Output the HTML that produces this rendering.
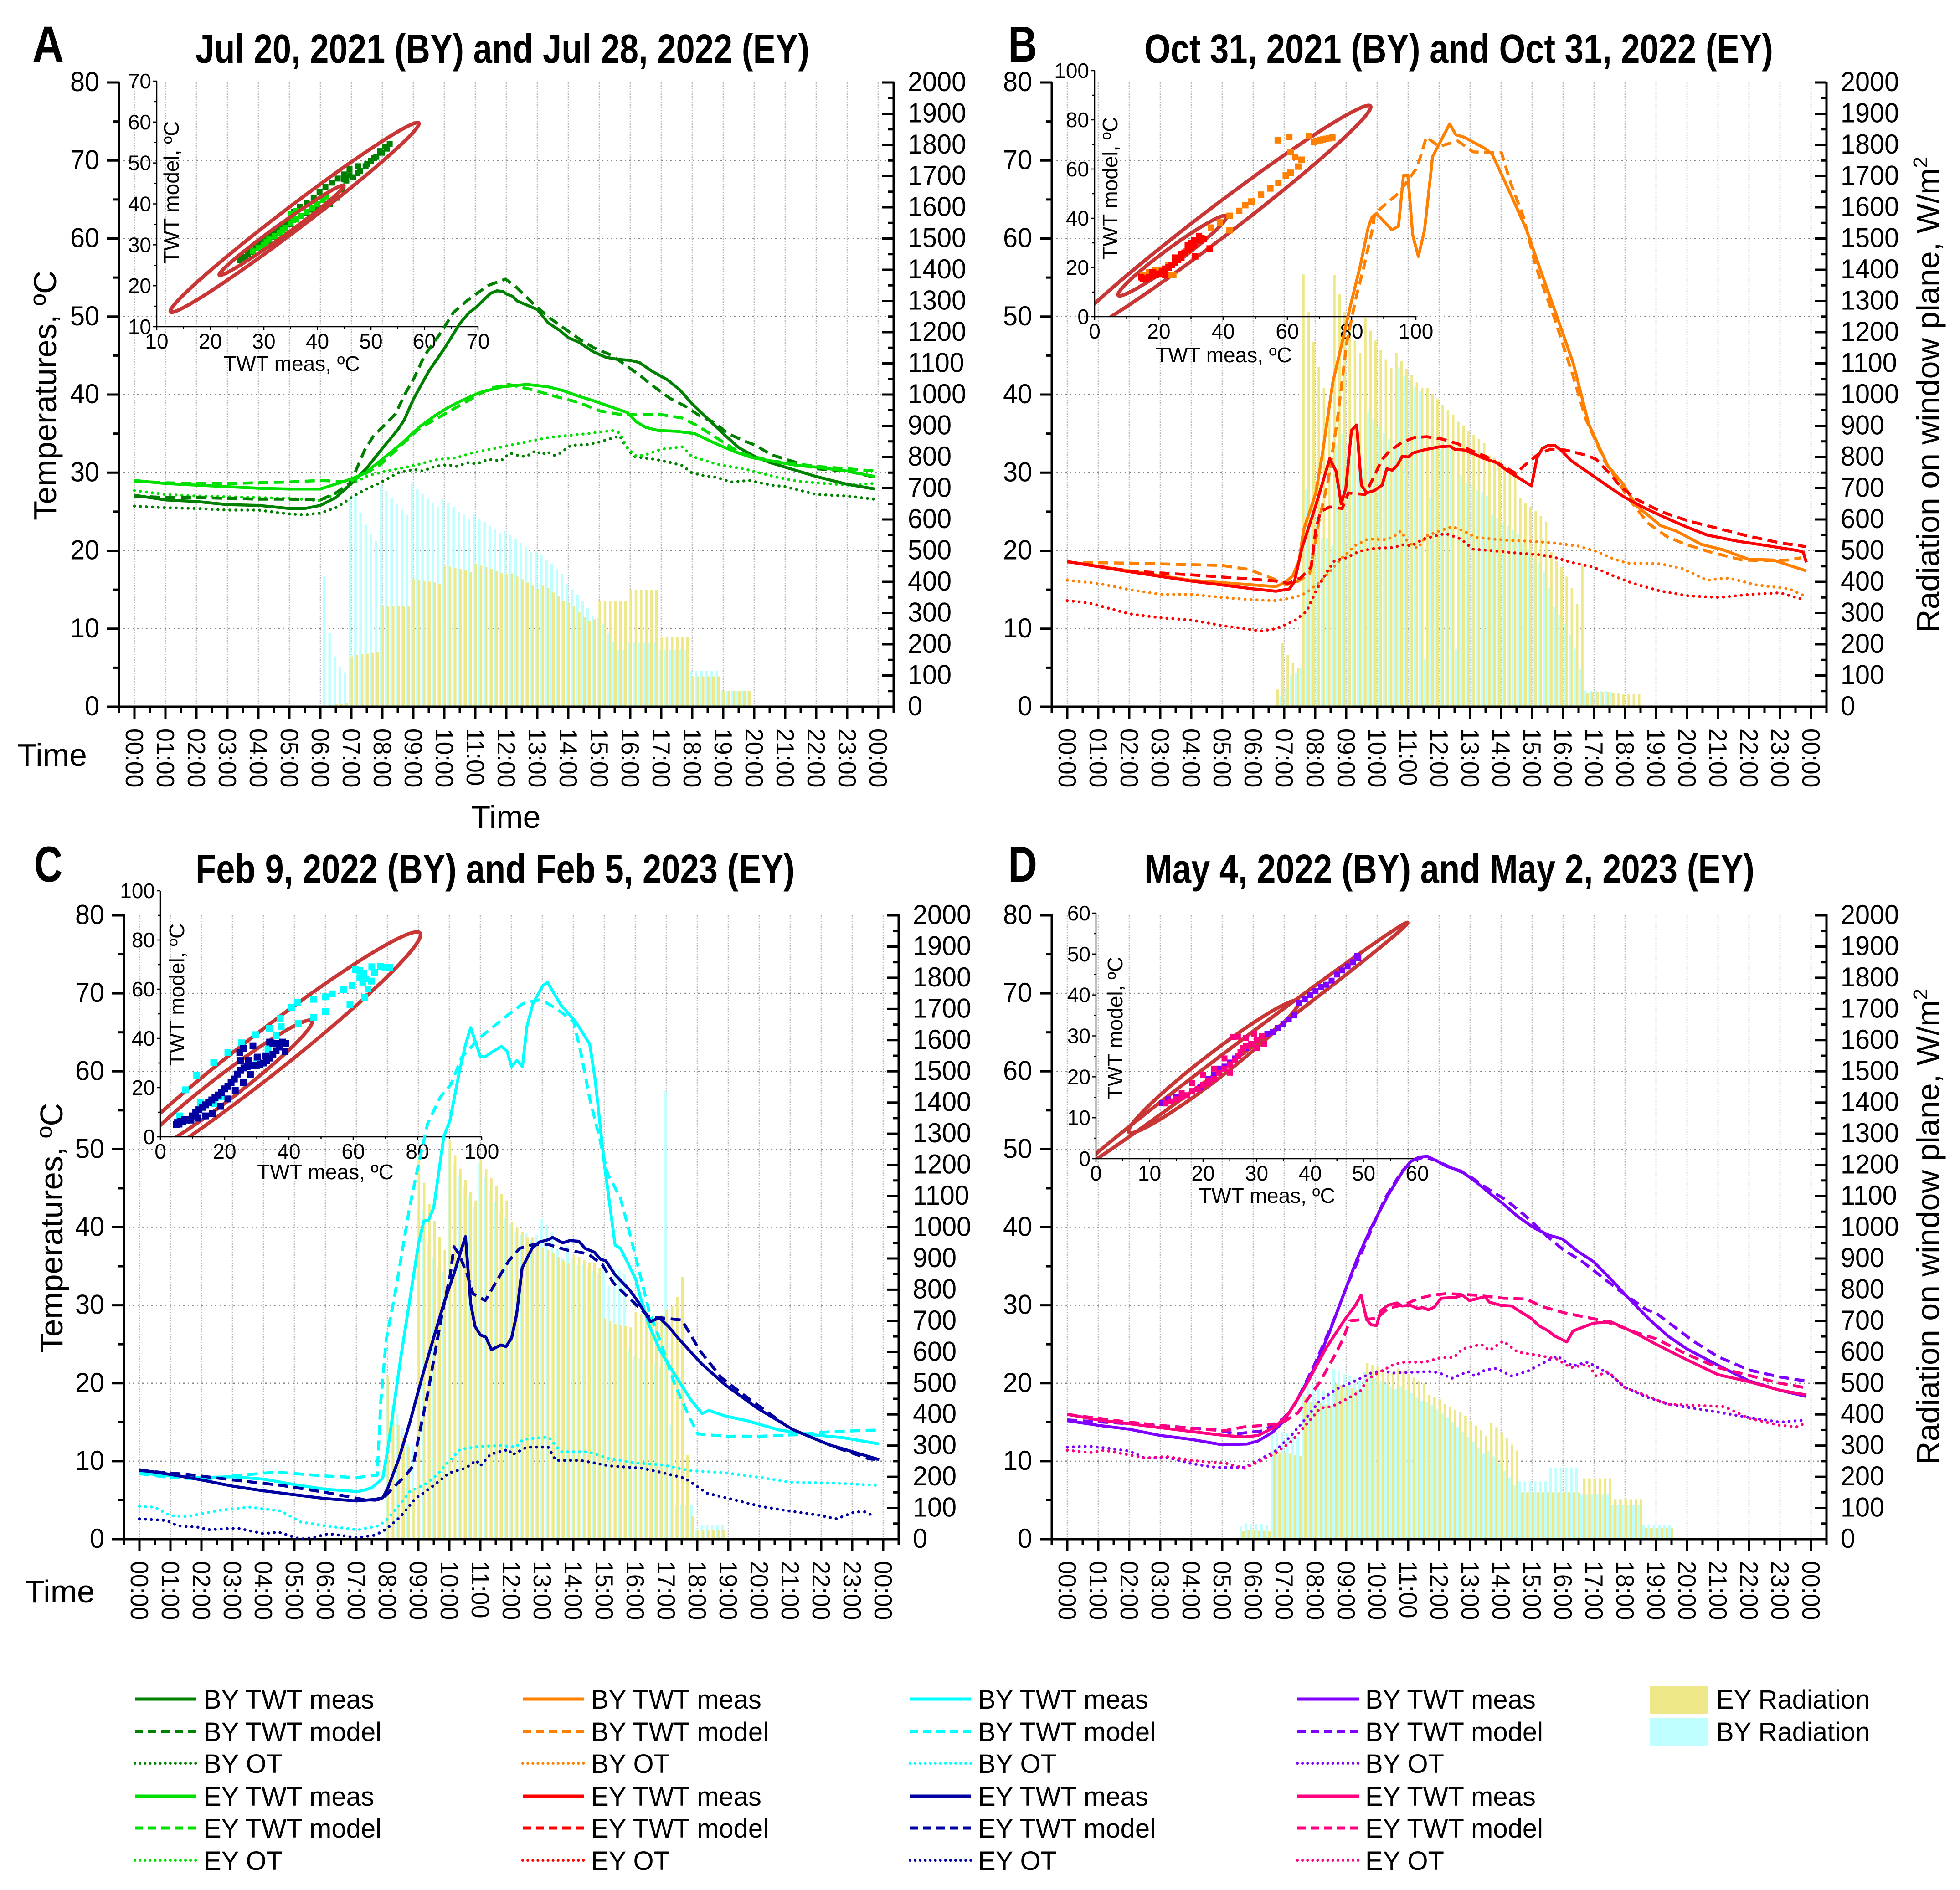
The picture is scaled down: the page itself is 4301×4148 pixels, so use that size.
<!DOCTYPE html>
<html lang="en">
<head>
<meta charset="utf-8">
<title>Window temperatures and radiation</title>
<style>
html,body{margin:0;padding:0;background:#fff;}
svg{display:block;}
text{font-family:"Liberation Sans",sans-serif;fill:#000;}
.ttl{font-weight:bold;font-size:90px;}
.let{font-weight:bold;font-size:110px;}
.big{font-size:70px;}
.leg{font-size:58px;}
</style>
</head>
<body>
<svg id="chart" xmlns="http://www.w3.org/2000/svg" width="4301" height="4148" viewBox="0 0 4301 4148">
<rect width="4301" height="4148" fill="#fff"/>
<g id="plots"></g>
<g>
<text class="let" x="71" y="135" textLength="69" lengthAdjust="spacingAndGlyphs">A</text>
<text class="let" x="2212" y="135" textLength="64" lengthAdjust="spacingAndGlyphs">B</text>
<text class="let" x="75" y="1935" textLength="62" lengthAdjust="spacingAndGlyphs">C</text>
<text class="let" x="2212" y="1935" textLength="64" lengthAdjust="spacingAndGlyphs">D</text>
<text class="ttl" x="429" y="138" textLength="1347" lengthAdjust="spacingAndGlyphs">Jul 20, 2021 (BY) and Jul 28, 2022 (EY)</text>
<text class="ttl" x="2511" y="138" textLength="1380" lengthAdjust="spacingAndGlyphs">Oct 31, 2021 (BY) and Oct 31, 2022 (EY)</text>
<text class="ttl" x="429" y="1938" textLength="1315" lengthAdjust="spacingAndGlyphs">Feb 9, 2022 (BY) and Feb 5, 2023 (EY)</text>
<text class="ttl" x="2511" y="1938" textLength="1339" lengthAdjust="spacingAndGlyphs">May 4, 2022 (BY) and May 2, 2023 (EY)</text>
<text class="big" text-anchor="middle" transform="translate(123,868) rotate(-90)" textLength="548" lengthAdjust="spacingAndGlyphs">Temperatures, ºC</text>
<text class="big" text-anchor="middle" transform="translate(137,2695) rotate(-90)" textLength="549" lengthAdjust="spacingAndGlyphs">Temperatures, ºC</text>
<text class="big" text-anchor="middle" transform="translate(4255,866) rotate(-90)">Radiation on window plane, W/m<tspan dy="-26" font-size="44">2</tspan></text>
<text class="big" text-anchor="middle" transform="translate(4255,2692) rotate(-90)">Radiation on window plane, W/m<tspan dy="-26" font-size="44">2</tspan></text>
<text class="big" x="38" y="1681">Time</text>
<text class="big" x="1110" y="1817" text-anchor="middle">Time</text>
<text class="big" x="55" y="3517">Time</text>
</g>
<g>
<g>
<line x1="296" x2="431" y1="3729" y2="3729" stroke="#008000" stroke-width="7"/>
<text class="leg" x="447" y="3750">BY TWT meas</text>
<line x1="296" x2="431" y1="3800" y2="3800" stroke="#008000" stroke-width="7" stroke-dasharray="18 11"/>
<text class="leg" x="447" y="3821">BY TWT model</text>
<line x1="296" x2="431" y1="3870" y2="3870" stroke="#008000" stroke-width="6" stroke-dasharray="0.1 11" stroke-linecap="round"/>
<text class="leg" x="447" y="3891">BY OT</text>
<line x1="296" x2="431" y1="3942" y2="3942" stroke="#00E000" stroke-width="7"/>
<text class="leg" x="447" y="3963">EY TWT meas</text>
<line x1="296" x2="431" y1="4012" y2="4012" stroke="#00E000" stroke-width="7" stroke-dasharray="18 11"/>
<text class="leg" x="447" y="4033">EY TWT model</text>
<line x1="296" x2="431" y1="4083" y2="4083" stroke="#00E000" stroke-width="6" stroke-dasharray="0.1 11" stroke-linecap="round"/>
<text class="leg" x="447" y="4104">EY OT</text>
</g>
<g>
<line x1="1147" x2="1281" y1="3729" y2="3729" stroke="#FF8000" stroke-width="7"/>
<text class="leg" x="1297" y="3750">BY TWT meas</text>
<line x1="1147" x2="1281" y1="3800" y2="3800" stroke="#FF8000" stroke-width="7" stroke-dasharray="18 11"/>
<text class="leg" x="1297" y="3821">BY TWT model</text>
<line x1="1147" x2="1281" y1="3870" y2="3870" stroke="#FF8000" stroke-width="6" stroke-dasharray="0.1 11" stroke-linecap="round"/>
<text class="leg" x="1297" y="3891">BY OT</text>
<line x1="1147" x2="1281" y1="3942" y2="3942" stroke="#FF0000" stroke-width="7"/>
<text class="leg" x="1297" y="3963">EY TWT meas</text>
<line x1="1147" x2="1281" y1="4012" y2="4012" stroke="#FF0000" stroke-width="7" stroke-dasharray="18 11"/>
<text class="leg" x="1297" y="4033">EY TWT model</text>
<line x1="1147" x2="1281" y1="4083" y2="4083" stroke="#FF0000" stroke-width="6" stroke-dasharray="0.1 11" stroke-linecap="round"/>
<text class="leg" x="1297" y="4104">EY OT</text>
</g>
<g>
<line x1="1997" x2="2131" y1="3729" y2="3729" stroke="#00FFFF" stroke-width="7"/>
<text class="leg" x="2146" y="3750">BY TWT meas</text>
<line x1="1997" x2="2131" y1="3800" y2="3800" stroke="#00FFFF" stroke-width="7" stroke-dasharray="18 11"/>
<text class="leg" x="2146" y="3821">BY TWT model</text>
<line x1="1997" x2="2131" y1="3870" y2="3870" stroke="#00FFFF" stroke-width="6" stroke-dasharray="0.1 11" stroke-linecap="round"/>
<text class="leg" x="2146" y="3891">BY OT</text>
<line x1="1997" x2="2131" y1="3942" y2="3942" stroke="#0000A0" stroke-width="7"/>
<text class="leg" x="2146" y="3963">EY TWT meas</text>
<line x1="1997" x2="2131" y1="4012" y2="4012" stroke="#0000A0" stroke-width="7" stroke-dasharray="18 11"/>
<text class="leg" x="2146" y="4033">EY TWT model</text>
<line x1="1997" x2="2131" y1="4083" y2="4083" stroke="#0000A0" stroke-width="6" stroke-dasharray="0.1 11" stroke-linecap="round"/>
<text class="leg" x="2146" y="4104">EY OT</text>
</g>
<g>
<line x1="2847" x2="2982" y1="3729" y2="3729" stroke="#8000FF" stroke-width="7"/>
<text class="leg" x="2996" y="3750">BY TWT meas</text>
<line x1="2847" x2="2982" y1="3800" y2="3800" stroke="#8000FF" stroke-width="7" stroke-dasharray="18 11"/>
<text class="leg" x="2996" y="3821">BY TWT model</text>
<line x1="2847" x2="2982" y1="3870" y2="3870" stroke="#8000FF" stroke-width="6" stroke-dasharray="0.1 11" stroke-linecap="round"/>
<text class="leg" x="2996" y="3891">BY OT</text>
<line x1="2847" x2="2982" y1="3942" y2="3942" stroke="#FF0080" stroke-width="7"/>
<text class="leg" x="2996" y="3963">EY TWT meas</text>
<line x1="2847" x2="2982" y1="4012" y2="4012" stroke="#FF0080" stroke-width="7" stroke-dasharray="18 11"/>
<text class="leg" x="2996" y="4033">EY TWT model</text>
<line x1="2847" x2="2982" y1="4083" y2="4083" stroke="#FF0080" stroke-width="6" stroke-dasharray="0.1 11" stroke-linecap="round"/>
<text class="leg" x="2996" y="4104">EY OT</text>
</g>
<rect x="3621" y="3701" width="126" height="60" fill="#EEE888"/>
<text class="leg" x="3766" y="3750">EY Radiation</text>
<rect x="3621" y="3771" width="126" height="60" fill="#BFFFFF"/>
<text class="leg" x="3766" y="3821">BY Radiation</text>
</g>
</svg>
<script>
// ---------- shared tick labels ----------
const tempTicks = [0,10,20,30,40,50,60,70,80];
const radTicks = [0,100,200,300,400,500,600,700,800,900,1000,1100,1200,1300,1400,1500,1600,1700,1800,1900,2000];
const hourLabels = ["00:00","01:00","02:00","03:00","04:00","05:00","06:00","07:00","08:00","09:00","10:00","11:00","12:00","13:00","14:00","15:00","16:00","17:00","18:00","19:00","20:00","21:00","22:00","23:00","00:00"];

// ---------- PANEL A ----------
const aByMeas = [[0,27.1],[1,26.5],[2,26.3],[3,25.9],[4,25.8],[5,25.4],[5.5,25.4],[6,25.8],[6.5,26.8],[7,28.6],[7.5,30.6],[8,33.1],[8.5,35.5],[8.7,36.7],[9,39.4],[9.5,43],[10,45.9],[10.5,49.1],[10.8,50.5],[11,51.1],[11.5,53],[11.7,53.3],[11.9,53.2],[12,52.9],[12.2,52.6],[12.35,52],[13,50.9],[13.35,49.2],[13.7,48.3],[14,47.3],[14.35,46.7],[14.8,45.5],[15.2,44.8],[15.6,44.5],[16,44.4],[16.3,44.1],[16.7,43],[17.2,41.9],[17.6,40.6],[18,38.8],[18.5,36.9],[19,35],[19.5,33.2],[20,32.1],[20.5,31.3],[21,30.7],[22,29.5],[23,28.5],[23.9,27.9]];
const aByModel = [[0,27],[1,26.8],[2,26.8],[3,26.7],[4,26.6],[5,26.6],[6,26.5],[6.5,27.4],[6.94,28.6],[7.14,30.2],[7.43,32.9],[7.73,34.8],[8.03,35.9],[8.42,37.5],[8.72,40],[9.01,42],[9.36,45],[9.9,48],[10.29,50.5],[10.69,51.9],[11.03,52.9],[11.43,54],[11.97,54.8],[12.26,54],[12.85,51.7],[13.44,49.7],[13.94,48.3],[14.33,47.2],[14.82,46],[15.42,45],[15.91,43.6],[16.3,42.5],[16.7,41.2],[17.29,39.5],[17.78,38.5],[18.27,37.2],[18.67,36.5],[19.16,35],[19.65,34.1],[20.05,33.5],[20.54,32.3],[21.03,31.7],[22,30.5],[23,30.2],[23.9,29.4]];
const aByOT = [[0,25.7],[1,25.5],[2,25.4],[3,25.2],[4,25.2],[5,24.7],[5.5,24.6],[6,24.8],[6.55,25.6],[7,26.8],[7.43,27.8],[7.93,28.7],[8.52,30],[9.01,30.4],[9.31,30.2],[9.7,30.8],[10.1,31],[10.39,30.8],[10.79,31.3],[11.03,31.1],[11.43,31.7],[11.82,31.5],[12.12,32.5],[12.46,32.1],[12.66,32.1],[12.95,32.8],[13.15,32.3],[13.3,32.7],[13.54,32.2],[13.74,32.5],[14.09,33.5],[14.63,33.6],[14.97,33.9],[15.32,34.3],[15.66,34.7],[15.81,33.7],[16.1,32.1],[16.4,31.9],[16.8,31.7],[17.29,31.3],[17.68,30.9],[17.98,30],[18.37,29.6],[18.77,29.4],[19.26,28.8],[19.85,29],[20.54,28.4],[21,28.2],[22,27.2],[23,27],[23.85,26.6]];
const aEyMeas = [[0,29],[1,28.6],[2,28.4],[3,28.2],[4,28],[5,27.9],[6,27.9],[6.55,28.6],[7,29.2],[7.43,29.9],[7.93,31.5],[8.61,33.7],[9.21,35.9],[9.7,37.3],[10.1,38.3],[10.49,39.1],[10.88,39.8],[11.18,40.3],[11.87,41],[12.66,41.3],[13.35,41],[13.84,40.5],[14.33,39.8],[14.82,39.2],[15.32,38.5],[15.91,37.7],[16.2,36.5],[16.5,35.8],[16.9,35.4],[17.49,35.3],[18.08,35],[18.77,33.7],[19.36,32.7],[19.95,31.9],[20.54,31.5],[21.4,30.9],[22,30.7],[23,30.2],[23.9,29.5]];
const aEyModel = [[0,28.9],[1,28.7],[2,28.6],[3,28.6],[4,28.7],[5,28.8],[6,29],[6.94,28.8],[7.34,29.6],[7.93,31],[8.61,33.5],[9.21,35.7],[11.47,40.8],[12.07,41.3],[12.86,40.6],[13.64,39.7],[14.33,39],[15.02,37.9],[15.61,37.5],[16.2,37.4],[16.9,37.5],[17.68,37],[18.17,36],[18.77,34.5],[19.55,32.5],[20.54,31.5],[21.4,31.1],[22,30.8],[23,30.5],[23.9,30.2]];
const aEyOT = [[0,27.7],[1,27.2],[2,27],[3,26.9],[4,26.8],[5,26.7],[6,26.4],[6.55,27.4],[7.04,28.6],[7.53,29.6],[8.12,30.2],[8.91,30.8],[9.8,31.7],[10.39,31.9],[10.88,32.5],[11.87,33.3],[12.86,34.1],[13.35,34.5],[13.84,34.7],[14.63,35],[15.42,35.4],[15.66,35.1],[15.91,33.1],[16.2,32.1],[16.5,32.3],[17,33],[17.68,33.3],[17.98,32.1],[18.77,31.1],[19.75,30.4],[20.74,29.4],[21.4,28.9],[22,28.7],[23,28.4],[23.85,28.6]];
const aRadByStart = 6.13;
const aRadBy = [417,235,161,128,110,664,674,622,583,555,530,709,692,669,649,632,615,717,698,682,666,652,640,664,651,640,625,615,603,615,603,592,579,568,556,564,551,538,524,511,496,498,485,470,457,442,425,393,376,358,337,317,292,284,265,235,208,181,181,205,205,205,205,205,205,181,181,181,181,181,181,114,114,114,114,114,114,50,50,50,50,50,50];
const aRadEyStart = 6.35;
const aRadEy = [5,7,10,13,161,165,169,170,173,175,321,321,321,321,321,321,408,405,403,401,398,393,452,449,445,442,439,432,459,452,447,441,435,429,425,427,417,408,398,388,378,388,380,366,353,338,333,321,304,287,275,280,338,338,338,338,338,338,375,375,375,375,375,375,222,222,222,222,222,222,97,97,97,97,97,97,50,50,50,50,50,50];
const aTicks = [10,20,30,40,50,60,70];
const aScatterBy = [[25.5,26.2],[26,26.8],[26.5,27],[27,27.8],[27.5,28.3],[28,28.6],[28.5,29.2],[29,29.8],[29.5,30.5],[30,31],[30.5,31.7],[31,32.4],[31.5,33],[32,33.4],[32.5,33.8],[33,34.3],[33.5,34.8],[34,35.2],[34.5,35.8],[35,37],[35.6,38],[36.7,39.3],[38,40.2],[39.3,41.5],[40.4,43],[41.5,44.2],[42.8,45.2],[43.8,46.2],[45,47.2],[46,48.5],[47.6,49.2],[41,39],[42.3,40],[43.6,41.5],[44.7,43.5],[45.4,45.7],[46.7,46.5],[48,48],[49.3,49.7],[50.6,51.2],[51.7,52.9],[52.6,54],[53.5,54.7],[53,53.5],[52,52.5],[51,51.5],[50,50.5],[49,49.2],[47.5,47.5],[46,47],[45,46],[30,30],[31,31],[32,32],[33,33],[34,34],[35,35],[36,36.2],[37,37],[38,37.8],[39,38.6],[40,38.8]];
const aScatterEy = [[28,28.4],[29,29.2],[30,30],[30.5,30.7],[31,31.3],[32,32.2],[33,33],[33.5,33.6],[34,34.2],[35,35.2],[35.5,36],[36,36.2],[37,37],[38,38],[39,39],[40,40],[41,41],[41.7,41.8],[35,37.5],[36,38.3]];
// confidence ellipses: centre x, centre y, half-length x, half-length y, half-width
const aEllipses = [[35.75,36.7,23.15,23.1,1.75],[33.3,33.55,11.6,10.95,0.9]];

// ---------- PANEL B ----------
const bByMeas = [[0,18.6],[2,17.4],[4,16.2],[6,15.6],[6.73,15.4],[7.03,15.9],[7.28,16.8],[7.48,18.7],[7.63,22.7],[8.02,27.4],[8.22,32.1],[8.57,41.6],[8.87,46.7],[9.12,51.1],[9.46,56.6],[9.71,61.4],[9.84,62.8],[9.98,63.2],[10.48,61.1],[10.69,61.6],[10.85,68.1],[10.99,68.1],[11.15,60.4],[11.33,57.7],[11.53,61.1],[11.79,70.5],[12,72.1],[12.34,74.7],[12.54,73.3],[12.8,73],[13.5,71.5],[13.71,70.8],[14.11,67.4],[14.52,63.8],[14.82,61.1],[15.32,55.4],[15.83,49.7],[16.33,44],[16.83,36.2],[17.44,30.9],[17.94,28.5],[18.35,25.8],[18.85,24.2],[19.15,23.2],[19.66,22.5],[20.46,20.8],[21.17,20.1],[21.98,18.9],[22.78,18.8],[23.39,18],[23.85,17.4]];
const bByModel = [[0,18.5],[2,18.4],[4,18.2],[5,18.1],[5.85,17.6],[6.65,16.4],[7.06,15.6],[7.46,16.1],[7.82,17.1],[7.97,20.3],[8.12,23.8],[8.42,29],[8.72,36.9],[9.02,46.7],[9.31,52.3],[9.56,56.2],[9.86,61.4],[9.92,63.2],[10.69,65.8],[11.29,69.1],[11.59,73],[12,71.8],[12.6,72.5],[13.1,71.1],[14.01,71],[14.31,67.1],[14.72,62.8],[15.12,56.4],[15.73,49.7],[16.33,42.3],[16.73,36.9],[17.34,31.5],[18.15,26.5],[18.75,23.5],[19.35,21.8],[19.96,20.8],[20.77,19.8],[21.77,18.8],[22.58,18.7],[23.29,18.8],[23.69,19.1]];
const bByOT = [[0,16.2],[1,15.8],[2,15],[3,14.4],[4,14.4],[5,14],[6,13.7],[6.73,13.6],[7.33,14],[7.72,14.6],[8.12,15.9],[8.47,17.3],[8.87,19.1],[9.31,20.7],[9.71,21.5],[10.21,21.4],[10.5,21.7],[10.76,22.5],[11,21.1],[11.3,20.3],[11.6,21.9],[12,22.5],[12.42,23.1],[12.8,22.5],[13.19,21.7],[13.69,21.5],[14.28,21.3],[14.98,21.2],[15.67,21],[16.47,20.6],[17.07,19.9],[17.66,18.9],[18.06,18.4],[18.56,18.4],[19.16,18.3],[19.85,17.7],[20.65,16.2],[21.24,16.5],[21.54,16.3],[22.24,15.6],[22.9,15.3],[23.3,15.1],[23.85,14.1]];
const bEyMeas = [[0,18.6],[2,17.3],[4,16.1],[6,15.1],[6.73,14.8],[7.17,15.1],[7.33,16],[7.57,20.3],[8.02,25.8],[8.47,31.8],[8.67,30.2],[8.84,26],[8.99,28],[9.17,35.4],[9.34,36.1],[9.49,28.4],[9.66,27.4],[9.91,27.7],[10.16,28.4],[10.31,30.5],[10.49,30.3],[10.66,31],[10.81,32.1],[11.01,32],[11.15,32.5],[11.5,32.9],[12,33.3],[12.35,33.4],[12.5,33],[12.8,32.9],[13.19,32.3],[13.39,31.9],[13.84,31.3],[14.29,30],[14.98,28.3],[15.16,31.9],[15.33,33.1],[15.53,33.5],[15.73,33.5],[15.98,32.7],[16.27,31.5],[16.82,30],[17.47,28.2],[17.96,26.9],[18.56,25.6],[19.26,24.3],[19.95,23.1],[20.65,22],[21.65,21.2],[22.32,20.8],[23.59,20],[23.75,19.8],[23.85,18.5]];
const bEyModel = [[0,18.6],[2,17.4],[4,16.9],[5.8,16.4],[6.73,16.1],[7.13,15.8],[7.53,16.5],[7.87,17.9],[8.02,22.7],[8.17,25],[8.47,25.6],[8.87,25.4],[9.07,27.4],[9.61,27.2],[9.91,29.6],[10.16,31.7],[10.41,32.8],[10.81,33.9],[11.2,34.5],[11.6,34.6],[12.1,34.3],[12.6,33.7],[12.99,32.9],[13.49,32.1],[13.99,31],[14.48,29.9],[14.78,31],[15.18,32.3],[15.58,33],[16.07,32.9],[16.77,32.2],[17.07,31.7],[17.52,29.8],[17.86,28.2],[18.36,26.6],[19.16,25],[20.05,23.8],[20.95,22.9],[21.94,21.9],[23,21],[23.85,20.5]];
const bEyOT = [[0,13.6],[0.7,13.3],[2,11.9],[3,11.4],[4,11.1],[5,10.4],[6.25,9.7],[6.73,10],[7.33,11],[7.72,12.2],[8.02,14.8],[8.32,16.9],[8.62,18.7],[9.02,19.1],[9.41,19.9],[9.91,20.3],[10.5,20.4],[10.9,20.8],[11.1,20.6],[11.5,21.5],[12.2,22.2],[12.7,21.5],[13.09,20.2],[13.69,20],[14.48,19.7],[15.18,19.5],[15.67,19.2],[16.27,18.5],[16.97,17.9],[17.66,16.7],[18.26,15.8],[19.16,14.8],[20.05,14.2],[21.05,14],[22.04,14.4],[23,14.6],[23.69,13.8],[23.8,13.9]];
const bRadByStart = 6.885;
const bRadBy = [33,62,100,107,125,696,640,605,540,541,516,840,873,840,810,780,765,945,921,900,876,857,830,1087,1060,1045,1024,1010,153,671,840,822,837,827,184,743,718,709,694,687,674,615,605,590,580,567,554,526,506,477,462,432,380,319,294,265,230,186,121,52,50,50,50,50,48];
const bRadEyStart = 6.785;
const bRadEy = [55,204,166,141,123,1385,1264,1168,1089,1022,950,1383,1321,1264,1227,1173,1133,1244,1205,1173,1142,1113,1086,1133,1108,1082,1062,1039,1022,1022,1003,985,968,950,936,913,901,884,870,857,844,805,797,788,773,753,738,667,654,640,627,611,593,496,467,447,417,380,329,452,42,47,47,47,47,45,42,40,40,40,40];
const bTicks = [0,20,40,60,80,100];
const bScatterBy = [[57,71.7],[60.6,73],[66.7,73.4],[68.3,70.9],[70.2,71.7],[72,72.3],[74,72.8],[73,72.5],[71,72],[69,71.5],[61,67],[62.4,64.9],[64.4,63.8],[63.4,61],[61,58.5],[59.5,57.4],[57.2,54.3],[54.7,52.1],[51.8,49.6],[48.8,46.8],[46.9,45.3],[45,43],[42,41],[39,38.3],[42,35.1],[36.2,36.2],[33.3,31.9],[31.3,24.5],[22.6,17],[24.5,17],[20.6,19],[28.4,26.6],[15,17],[17,18],[19,19],[21,19],[23,21],[25,23],[27,25]];
const bScatterEy = [[14.5,16],[15,15.5],[16,15.5],[17,16],[18,16.5],[19,17],[20,17.5],[21,18.5],[22,19.5],[23,20],[24,21],[25,22],[26,23],[27,24],[28,26],[29,27],[30,28],[31,29],[32,31],[33,32],[31,31],[29,29],[30,30],[27,25.5],[25,24],[33,31],[34,31.5],[32.5,32.8],[35.8,27.7],[31.3,24.5],[22,17],[18,18]];
const bEllipses = [[38,38,47.8,47.7,3.9],[24.2,24.8,16.8,16.2,2]];

// ---------- PANEL C ----------
const cByMeas = [[0,8.5],[1,8.1],[2,7.9],[3,8],[4,7.7],[5,7],[6,6.4],[7.05,6.1],[7.26,6.3],[7.5,6.6],[7.85,7.8],[8.02,11.7],[8.43,23.2],[9.01,38],[9.18,40.8],[9.33,40.9],[9.5,42.6],[9.82,51.6],[10.02,53.7],[10.31,59.7],[10.52,63.4],[10.69,65.6],[11,61.9],[11.16,61.9],[11.39,62.5],[11.68,63.2],[11.86,62.6],[12.01,60.6],[12.18,61.4],[12.36,60.6],[12.5,65.7],[12.7,68.7],[13.02,71],[13.17,71.4],[13.6,68.5],[14.07,66.4],[14.53,63.5],[14.71,58.8],[15,48.2],[15.35,37.7],[15.52,37.3],[16.01,33.4],[16.16,31.1],[16.45,27.4],[16.8,24.2],[17.26,21.2],[17.79,17.9],[18.16,16.1],[18.37,16.5],[18.9,15.8],[19.6,15.2],[20.64,14],[21.7,13.4],[22.73,13],[23.87,12.2]];
const cByModel = [[0,8.4],[1,7.9],[2.15,7.7],[3,8.1],[4.4,8.6],[6,8.1],[7,7.9],[7.67,8.2],[7.79,17.7],[7.96,25.5],[8.25,31.5],[8.72,42.6],[9.01,48.2],[9.3,53.3],[9.71,56.7],[10.05,58.3],[10.4,61.8],[10.98,64.3],[11.91,67.3],[12.38,68.7],[12.96,69.2],[13.43,68.1],[14.01,66.4],[14.24,62.5],[14.53,56.5],[14.82,51.9],[15.11,46.8],[15.52,43.8],[15.81,39.4],[16.1,34.8],[16.45,29.2],[16.8,25.5],[17.26,20],[17.73,15.8],[18.02,13.5],[18.9,13.2],[20.05,13.2],[21.22,13.4],[22.38,13.8],[23.87,14]];
const cByOT = [[0,4.2],[0.5,4.1],[1,3],[1.55,2.9],[2.56,3.7],[3.57,4.1],[4.58,3.6],[5.2,2.2],[6,1.7],[7.05,1.2],[7.7,1.7],[7.96,2.4],[8.37,4.3],[8.72,6.1],[9.24,7.1],[9.59,8.2],[9.94,9.8],[10.35,11.5],[10.98,11.9],[11.68,12],[12.15,11.8],[12.38,12.8],[13.2,13.1],[13.6,11.2],[14.47,11.2],[15.17,10.3],[15.98,9.8],[16.91,9.5],[17.73,8.8],[18.9,8.5],[20.05,7.9],[20.98,7.3],[22.38,7.2],[23.77,6.9]];
const cEyMeas = [[0,8.9],[1,8.3],[2,7.6],[3,6.8],[4,6.2],[5,5.7],[6,5.2],[7,4.9],[7.6,5.1],[7.85,5.3],[8.02,6.6],[8.37,10.3],[8.72,14.9],[9.13,20.9],[9.47,25.5],[9.82,30.2],[10.17,34.3],[10.4,37.3],[10.52,38.8],[10.69,30.2],[10.83,27.3],[11,26.2],[11.18,25.9],[11.36,24.3],[11.66,24.9],[11.83,24.7],[12.01,25.8],[12.17,28.8],[12.35,34.8],[12.67,37.3],[12.9,38.1],[13.19,38.4],[13.33,38.7],[13.66,38],[13.89,38.3],[14.18,38.2],[14.38,37.3],[14.68,36.8],[14.88,35.9],[15.05,35.7],[15.35,33.9],[15.81,32],[16.1,30.4],[16.49,27.9],[16.78,28.4],[17.09,27.2],[17.38,25.8],[18.14,22.5],[18.9,19.8],[19.94,16.8],[21.11,14],[22.26,12.1],[23.87,10.2]];
const cEyModel = [[0,8.8],[1.55,8.3],[3,7.6],[4.58,6.9],[6,6],[7.2,5.1],[7.6,5],[7.85,5.2],[8.19,6.6],[8.6,8.2],[8.83,9.4],[9.01,13.1],[9.3,18.6],[9.53,23.7],[9.76,28.8],[10.03,33.9],[10.15,37.5],[10.31,36.6],[10.58,33.9],[10.76,31.5],[11.16,30.6],[11.57,33.4],[11.92,35.7],[12.27,37.3],[12.73,37.8],[13.19,37.8],[13.77,37.1],[14.47,36.6],[14.94,35.2],[15.29,32.9],[15.75,31.1],[16.45,28.5],[16.8,28.4],[17.5,28.1],[17.79,26.2],[18.08,24.2],[18.78,20.7],[19.6,18.2],[21,14.2],[22.38,11.9],[23.54,10.3],[23.87,10.2]];
const cEyOT = [[0,2.6],[0.85,2.4],[1.25,1.7],[2,1.5],[2.15,1.2],[3.17,1.4],[4,0.7],[4.48,0.9],[5.2,0],[5.6,0.2],[6.1,0.7],[7,0.2],[7.6,0.5],[7.97,1.3],[8.43,2.9],[8.9,5.2],[9.47,6.8],[10,8.5],[10.52,9.1],[10.87,10.1],[11,9.4],[11.33,10.9],[11.91,11.5],[12.03,10.8],[12.5,11.8],[13.19,11.8],[13.43,10.1],[14.24,10.1],[15.17,9.4],[16.22,9.1],[16.91,8.5],[17.61,7.8],[18.31,5.9],[19.24,5],[20.05,4.2],[20.98,3.6],[21.9,3.1],[22.5,2.6],[23.08,3.5],[23.43,3.5],[23.72,2.9]];
const cRadByStart = 7.985;
const cRadBy = [524,425,402,356,304,298,1060,1054,950,904,870,858,1250,1205,1164,1130,1097,1066,1205,1158,1118,1080,1050,1030,1010,985,975,980,960,975,1026,1008,985,930,900,939,900,880,880,870,860,850,881,812,870,864,852,610,587,581,575,361,564,552,1436,367,110,110,110,110,30,44,44,44,44,44];
const cRadEyStart = 8.02;
const cRadEy = [523,425,367,327,295,165,1228,1143,1075,1020,969,927,1280,1231,1188,1152,1112,1086,1216,1186,1158,1132,1106,1086,1018,999,985,968,968,947,933,927,916,904,893,885,910,904,895,887,887,870,708,700,691,687,683,679,729,722,733,710,714,720,737,748,777,840,269,73,29,29,29,29,29,29];
const cTicks = [0,20,40,60,80,100];
const cScatterBy = [[7.8,19.1],[11.3,25],[16.6,30.1],[21,34.3],[25.3,38.2],[29.7,41.5],[33.9,44],[37.3,48.1],[37.6,44.7],[40.8,52.7],[42.6,54.6],[42.9,46],[47.7,55.9],[47.7,48.6],[51.4,56.9],[51.4,50.9],[53.5,58.1],[57,59.9],[59.7,61.5],[59,53.6],[60.7,67.9],[62.1,67.5],[63.2,66.5],[62.1,64.7],[63,62.9],[64,64.2],[65.7,63.3],[64.6,60.1],[63.6,56.7],[65.8,69.1],[66.7,66.8],[68.5,69.3],[69.9,69],[71.3,68.8],[6,8.5],[12.4,14],[16.6,13.5],[19,16.3],[14,13],[17,16],[30,32],[33.5,35.7],[36,41.2]];
const cScatterEy = [[5,5],[5.3,5.8],[5.8,5.2],[6.3,6.2],[7,6.3],[7.5,7],[8,6.8],[9,7],[9.5,6.8],[10,8.5],[11,10],[12,11],[13,12],[14,13],[15,14],[16,15],[17,16],[18,17],[19,18],[20,19.5],[21,20.5],[22,22],[23,23.5],[24,25.5],[25,27],[26,28],[27,28.5],[28,29],[29,29],[30,29],[31,29.5],[32,30],[33,31],[34,32],[35,33.5],[36,35],[37,36.5],[38,38],[39,38],[38,38.5],[37,38],[36,38],[35,38],[34,38.5],[24.7,34.3],[25.8,35.9],[28.8,37],[30.2,32.4],[27.4,31],[25,31],[28,25.3],[25.8,22],[23.3,18.8],[21,15.4],[18.7,12.4],[16.2,9.4],[14.1,8.5],[11.7,7.6],[38.8,34.7],[32.8,32.9]];
const cEllipses = [[30,31,50.7,52,5.4],[20,20,27,27.2,3.2]];

// ---------- PANEL D ----------
const dByMeas = [[0,15.2],[1,14.6],[2,14.1],[3,13.3],[4,12.8],[5,12.1],[5.8,12.2],[6.16,12.6],[6.62,13.7],[6.98,15.1],[7.44,18],[7.98,22],[8.44,26.3],[8.89,31.1],[9.35,35.9],[9.8,39.9],[10.35,44.1],[10.8,47],[11.07,48.4],[11.35,49],[11.62,49.1],[11.98,48.4],[12.25,47.8],[12.71,47.2],[13.16,45.9],[13.62,44.4],[14.07,43],[14.53,41.4],[15.07,39.9],[15.53,39],[15.98,38.5],[16.44,37],[16.98,35.6],[17.53,33.4],[18.16,30.7],[18.78,28.2],[19.4,26],[20,24.4],[21,22.3],[22,20.3],[23,19.1],[23.85,18.3]];
const dByModel = [[0,15.3],[1.2,15],[3.25,14.5],[4.85,14],[5.43,13.5],[6.34,13.9],[6.98,15.5],[7.35,17.3],[7.98,22.4],[8.53,27.4],[9.07,32.9],[9.62,37.9],[10.25,43.7],[10.8,47.2],[11.16,48.6],[11.53,49],[11.89,48.6],[12.35,47.7],[12.89,46.8],[13.62,44.8],[14.16,43.5],[14.8,41.4],[15.44,39],[15.98,37.2],[16.62,35.6],[17.26,33.6],[17.98,31.4],[18.71,29.4],[19,29],[20.2,25.4],[21,23.4],[22,21.7],[23,20.8],[23.8,20.3]];
const dByOT = [[0,11.8],[0.73,11.9],[1.2,11.7],[2,11.3],[2.5,10.4],[3.2,10.5],[4,9.7],[4.8,9.2],[5.71,9.2],[6.16,10.1],[6.71,11.3],[7.16,13],[7.62,15.1],[8.16,17.8],[8.71,19.3],[9.25,20.2],[9.8,21.3],[10.16,21.6],[10.53,21.3],[11.07,21.4],[11.8,21.5],[12.16,21.1],[12.39,20.6],[12.93,21.5],[13.16,20.9],[13.48,21.7],[13.85,21.9],[14.35,20.9],[14.89,21.6],[15.26,22.4],[15.8,23.5],[16.3,22.2],[16.8,22.7],[17.53,21.1],[17.98,19.5],[18.71,18.2],[19.4,17.3],[21,16.3],[22,15.6],[23,15],[23.85,15.3]];
const dEyMeas = [[0,16],[1,15.3],[2,14.8],[3,14.3],[4,13.8],[5.07,13.3],[5.71,13.1],[6.16,13.3],[6.71,14.4],[7.16,16.2],[7.71,19.8],[8.35,24.5],[8.98,28.3],[9.3,30],[9.48,31.3],[9.66,28.2],[9.8,27.5],[9.98,27.4],[10.12,29.3],[10.35,30],[10.64,30.3],[10.8,29.9],[11.07,30],[11.3,29.6],[11.48,29.7],[11.66,29.4],[11.85,29.8],[12.07,30.9],[12.53,31],[12.75,31.3],[12.98,30.6],[13.48,31.1],[13.62,30.4],[13.98,30],[14.35,29.9],[14.53,29.4],[14.98,28.3],[15.21,27.4],[15.53,26.7],[15.71,26.1],[16.12,25.3],[16.32,26.7],[16.71,27.3],[16.98,27.7],[17.53,27.9],[17.98,27.1],[18.44,26.2],[19,25],[20,23],[21,21.1],[22,20.2],[23,19.1],[23.85,18.5]];
const dEyModel = [[0,16],[1,15.5],[2,15],[3,14.6],[4,14.2],[5.07,13.9],[5.71,14.4],[6.35,14.6],[6.89,14.8],[7.44,16.2],[8.16,20.2],[8.62,23.5],[8.89,25.6],[9.12,28],[9.62,28.2],[9.98,28.3],[10.35,29.6],[10.89,30.1],[11.35,30.9],[11.8,31.3],[12.25,31.5],[13.16,31.3],[14.07,30.9],[14.8,30.8],[15.35,29.8],[16.07,29],[17.07,28.2],[17.62,27.6],[18.35,26.5],[19,25.7],[20,23.7],[21,22],[22,21],[23,20],[23.85,19.4]];
const dEyOT = [[0,11.4],[0.73,11.1],[1.2,11.4],[2,10.8],[2.5,10.4],[3.2,10.6],[4,10.1],[4.53,9.9],[5.16,9.7],[5.71,9.1],[6.16,9.9],[6.71,11],[7.25,12.6],[7.8,15.1],[8.16,16.8],[8.53,17],[8.89,17.7],[9.44,18.9],[9.71,20.6],[10.16,21.6],[10.53,22.4],[10.89,22.7],[11.53,22.7],[12.07,23.3],[12.48,23.3],[12.75,24.4],[13.35,25],[13.62,24.2],[14.07,25.4],[14.53,24],[15.16,23.6],[15.8,23.1],[16.25,22],[16.8,22.4],[17.07,20.9],[17.44,21.5],[17.98,19.5],[18.44,18.8],[19.4,17.3],[20,17.2],[21.2,17],[22,15.5],[23,14.6],[23.6,14.4],[23.85,15.1]];
const dRadByStart = 5.6;
const dRadBy = [41,51,48,48,48,46,337,341,343,340,346,328,502,488,495,481,477,472,545,540,529,522,517,508,535,529,517,508,499,490,481,490,479,468,456,443,441,430,418,405,391,375,359,344,328,312,292,274,283,265,244,219,197,172,185,185,185,185,185,185,230,230,230,230,230,230,144,144,144,144,144,144,109,109,109,109,109,109,47,47,47,47,47,47];
const dRadEyStart = 5.685;
const dRadEy = [25,29,29,27,27,25,287,278,278,274,269,266,454,441,441,436,432,427,499,495,490,484,479,477,564,558,551,545,540,533,547,540,529,519,508,499,463,454,448,433,424,414,409,395,379,364,349,332,373,359,341,325,303,284,150,150,150,150,150,150,150,150,150,150,150,150,195,195,195,195,195,195,128,128,128,128,128,128,35,35,35,35,35,35];
const dTicks = [0,10,20,30,40,50,60];
const dScatterBy = [[12.3,13.6],[13.5,14.5],[15,15],[16,15.5],[18,16.5],[19.5,17.5],[21,19.5],[22,20.5],[23,22],[24,22.5],[25,23.5],[26,24.5],[27,26],[28,27],[29,28],[30,29],[31,30],[32,30.5],[33,31],[34,32],[35,33],[36,34],[37,35],[38,38],[39,39],[40,40],[41,41],[42,42],[43,42.5],[44,43.5],[45,45],[46,46],[47,47],[48,48],[49,49],[48.8,49.6]];
const dScatterEy = [[13,13.5],[14,14],[15,14.5],[16,15],[17,15.5],[18,16.5],[19,17],[20,18],[21,18.5],[22,19.5],[23,21],[24,22],[25,23],[26,24],[26.5,25],[27,26],[27.5,27],[28,27.5],[29,28],[30,29],[31,30],[31.4,28.1],[25.6,29.7],[26.5,29.8],[28,29.5],[29.5,30.5],[24,24.5],[22,22],[20,20.5],[21,19],[25,21],[30,27],[18,18.5],[16,16]];
const dEllipses = [[28,28,30.2,29.7,0.9],[22,22.5,15.8,16.1,1.9]];

// ---------- drawing ----------
const NS = 'http://www.w3.org/2000/svg';
const root = document.getElementById('plots');

function make(parent, tag, attrs, name) {
  const el = document.createElementNS(NS, tag);
  for (const k in attrs) el.setAttribute(k, attrs[k]);
  
  
  parent.appendChild(el);
  return el;
}
function makeText(parent, str, attrs, name) {
  const el = make(parent, 'text', attrs, name);
  el.textContent = str;
  return el;
}
function polyPoints(series, sx, sy) {
  return series.map(function (p) { return sx(p[0]).toFixed(1) + ',' + sy(p[1]).toFixed(1); }).join(' ');
}

function drawPanel(p) {
  const g = make(root, 'g', {}, 'panel-' + p.id);
  const sx = function (h) { return p.left + (h + 0.5) / 25 * (p.right - p.left); };
  const sy = function (t) { return p.bottom - t / 80 * (p.bottom - p.top); };
  const sr = function (w) { return p.bottom - w / 2000 * (p.bottom - p.top); };

  // grid
  const grid = make(g, 'g', {}, 'grid-' + p.id);
  for (let h = 0; h <= 24; h++) {
    make(grid, 'line', { x1: sx(h), x2: sx(h), y1: p.top, y2: p.bottom, stroke: '#bbb', 'stroke-width': 2.5, 'stroke-dasharray': '3 3' }, 'grid-line-vertical');
  }
  tempTicks.forEach(function (t) {
    if (t === 0 || t === 80) return;
    make(grid, 'line', { x1: p.left, x2: p.right, y1: sy(t), y2: sy(t), stroke: '#888', 'stroke-width': 2.5, 'stroke-dasharray': '3 7' }, 'grid-line-horizontal');
  });

  // radiation bars
  const bars = make(g, 'g', {}, 'radiation-bars-' + p.id);
  p.radBy.forEach(function (v, i) {
    const cx = sx(p.radByStart + i / 6);
    make(bars, 'rect', { x: cx - 2.75, width: 5.5, y: sr(v), height: p.bottom - sr(v), fill: '#BFFFFF' }, 'by-radiation-bar');
  });
  p.radEy.forEach(function (v, i) {
    const cx = sx(p.radEyStart + i / 6);
    make(bars, 'rect', { x: cx - 2.75, width: 5.5, y: sr(v), height: p.bottom - sr(v), fill: '#EEE888' }, 'ey-radiation-bar');
  });

  // inset
  const ins = p.inset;
  const ig = make(g, 'g', {}, 'inset-' + p.id);
  const lo = ins.ticks[0];
  const hi = ins.ticks[ins.ticks.length - 1];
  const ix = function (v) { return ins.left + (v - lo) / (hi - lo) * (ins.right - ins.left); };
  const iy = function (v) { return ins.bottom - (v - lo) / (hi - lo) * (ins.bottom - ins.top); };
  const clipId = 'clip-inset-' + p.id;
  const defs = make(ig, 'defs', {}, 'inset-defs');
  const clip = make(defs, 'clipPath', { id: clipId }, 'inset-clip');
  make(clip, 'rect', { x: ins.left, y: ins.top, width: ins.right - ins.left, height: ins.bottom - ins.top }, 'inset-clip-rect');

  function drawEllipses() {
    const eg = make(ig, 'g', { 'clip-path': 'url(#' + clipId + ')' }, 'confidence-ellipses');
    ins.ellipses.forEach(function (e) {
      const pts = [];
      for (let a = 0; a <= 120; a++) {
        const th = a / 120 * 2 * Math.PI;
        pts.push([e[0] + e[2] * Math.cos(th) - e[4] * Math.sin(th), e[1] + e[3] * Math.cos(th) + e[4] * Math.sin(th)]);
      }
      make(eg, 'polygon', { points: polyPoints(pts, ix, iy), fill: 'none', stroke: '#C93636', 'stroke-width': 8, 'stroke-linejoin': 'round' }, 'confidence-ellipse');
    });
  }
  function drawScatter() {
    const sz = ins.marker;
    ins.scatterBy.forEach(function (s) {
      make(ig, 'rect', { x: ix(s[0]) - sz / 2, y: iy(s[1]) - sz / 2, width: sz, height: sz, fill: p.byColor }, 'scatter-point-by');
    });
    ins.scatterEy.forEach(function (s) {
      make(ig, 'rect', { x: ix(s[0]) - sz / 2, y: iy(s[1]) - sz / 2, width: sz, height: sz, fill: p.eyColor }, 'scatter-point-ey');
    });
  }
  if (ins.ellipsesOnTop) { drawScatter(); drawEllipses(); } else { drawEllipses(); drawScatter(); }

  make(ig, 'line', { x1: ins.left, x2: ins.left, y1: ins.top, y2: ins.bottom + 1, stroke: '#000', 'stroke-width': 2.5 }, 'inset-y-axis');
  make(ig, 'line', { x1: ins.left, x2: ins.right, y1: ins.bottom, y2: ins.bottom, stroke: '#000', 'stroke-width': 2.5 }, 'inset-x-axis');
  ins.ticks.forEach(function (v, i) {
    make(ig, 'line', { x1: ix(v), x2: ix(v), y1: ins.bottom, y2: ins.bottom + 8, stroke: '#000', 'stroke-width': 2.5 }, 'inset-x-tick');
    make(ig, 'line', { x1: ins.left - 8, x2: ins.left, y1: iy(v), y2: iy(v), stroke: '#000', 'stroke-width': 2.5 }, 'inset-y-tick');
    if (i < ins.ticks.length - 1) {
      const mid = (v + ins.ticks[i + 1]) / 2;
      make(ig, 'line', { x1: ix(mid), x2: ix(mid), y1: ins.bottom, y2: ins.bottom + 5, stroke: '#000', 'stroke-width': 2.5 }, 'inset-x-minor-tick');
      make(ig, 'line', { x1: ins.left - 5, x2: ins.left, y1: iy(mid), y2: iy(mid), stroke: '#000', 'stroke-width': 2.5 }, 'inset-y-minor-tick');
    }
    makeText(ig, String(v), { x: ix(v), y: ins.bottom + 48, 'text-anchor': 'middle', 'font-size': 46, fill: '#000' }, 'inset-x-tick-label');
    makeText(ig, String(v), { x: ins.left - 12, y: iy(v) + 16, 'text-anchor': 'end', 'font-size': 46 }, 'inset-y-tick-label');
  });
  makeText(ig, 'TWT meas, ºC', { x: ins.xTitleX, y: ins.xTitleY, 'text-anchor': 'middle', 'font-size': 46 }, 'inset-x-axis-title');
  makeText(ig, 'TWT model, ºC', { 'text-anchor': 'middle', 'font-size': 46, transform: 'translate(' + ins.yTitleX + ',' + ins.yTitleY + ') rotate(-90)' }, 'inset-y-axis-title');

  // axes
  const ax = make(g, 'g', {}, 'axes-' + p.id);
  make(ax, 'line', { x1: p.left, x2: p.left, y1: p.top - 2, y2: p.bottom + 13, stroke: '#000', 'stroke-width': 5 }, 'y-axis-left');
  make(ax, 'line', { x1: p.right, x2: p.right, y1: p.top - 2, y2: p.bottom + 13, stroke: '#000', 'stroke-width': 5 }, 'y-axis-right');
  make(ax, 'line', { x1: p.left - 2, x2: p.right + 2, y1: p.bottom, y2: p.bottom, stroke: '#000', 'stroke-width': 5 }, 'x-axis');
  tempTicks.forEach(function (t, i) {
    make(ax, 'line', { x1: p.left - 26, x2: p.left, y1: sy(t), y2: sy(t), stroke: '#000', 'stroke-width': 5 }, 'y-axis-tick');
    if (i < tempTicks.length - 1) {
      const m = (t + tempTicks[i + 1]) / 2;
      make(ax, 'line', { x1: p.left - 13, x2: p.left, y1: sy(m), y2: sy(m), stroke: '#000', 'stroke-width': 5 }, 'y-axis-minor-tick');
    }
    makeText(ax, String(t), { 'text-anchor': 'end', 'font-size': 60, transform: 'translate(' + (p.left - 43) + ',' + (sy(t) + 19) + ') scale(0.96,1)' }, 'y-axis-tick-label');
  });
  radTicks.forEach(function (w, i) {
    make(ax, 'line', { x1: p.right - 26, x2: p.right, y1: sr(w), y2: sr(w), stroke: '#000', 'stroke-width': 5 }, 'right-axis-tick');
    if (i < radTicks.length - 1) {
      const m = (w + radTicks[i + 1]) / 2;
      make(ax, 'line', { x1: p.right - 13, x2: p.right, y1: sr(m), y2: sr(m), stroke: '#000', 'stroke-width': 5 }, 'right-axis-minor-tick');
    }
    makeText(ax, String(w), { 'font-size': 60, transform: 'translate(' + (p.right + 31) + ',' + (sr(w) + 19) + ') scale(0.96,1)' }, 'right-axis-tick-label');
  });
  hourLabels.forEach(function (lab, h) {
    make(ax, 'line', { x1: sx(h), x2: sx(h), y1: p.bottom, y2: p.bottom + 26, stroke: '#000', 'stroke-width': 5 }, 'x-axis-tick');
    if (h < hourLabels.length - 1) {
      make(ax, 'line', { x1: sx(h + 0.5), x2: sx(h + 0.5), y1: p.bottom, y2: p.bottom + 13, stroke: '#000', 'stroke-width': 5 }, 'x-axis-minor-tick');
    }
    makeText(ax, lab, { 'font-size': 55, transform: 'translate(' + (sx(h) - 19) + ',' + (p.bottom + 48) + ') rotate(90) scale(0.94,1)' }, 'x-axis-tick-label');
  });

  // temperature series
  const lines = make(g, 'g', {}, 'temperature-lines-' + p.id);
  function drawLine(series, color, kind, name) {
    const attrs = { points: polyPoints(series, sx, sy), fill: 'none', stroke: color, 'stroke-width': 6.5, 'stroke-linejoin': 'round' };
    if (kind === 'dash') attrs['stroke-dasharray'] = '22 12';
    if (kind === 'dot') { attrs['stroke-dasharray'] = '0.1 13'; attrs['stroke-linecap'] = 'round'; }
    make(lines, 'polyline', attrs, name);
  }
  drawLine(p.byOT, p.byColor, 'dot', 'by-ot-line');
  drawLine(p.eyOT, p.eyColor, 'dot', 'ey-ot-line');
  drawLine(p.byModel, p.byColor, 'dash', 'by-twt-model-line');
  drawLine(p.byMeas, p.byColor, 'solid', 'by-twt-meas-line');
  drawLine(p.eyModel, p.eyColor, 'dash', 'ey-twt-model-line');
  drawLine(p.eyMeas, p.eyColor, 'solid', 'ey-twt-meas-line');
}

drawPanel({ id: 'a', left: 261, right: 1961, top: 181, bottom: 1551, byColor: '#008000', eyColor: '#00E000',
  byMeas: aByMeas, byModel: aByModel, byOT: aByOT, eyMeas: aEyMeas, eyModel: aEyModel, eyOT: aEyOT,
  radBy: aRadBy, radByStart: aRadByStart, radEy: aRadEy, radEyStart: aRadEyStart,
  inset: { left: 344, right: 1049, top: 178, bottom: 717, ticks: aTicks, scatterBy: aScatterBy, scatterEy: aScatterEy, ellipses: aEllipses, ellipsesOnTop: true, marker: 13, xTitleX: 640, xTitleY: 814, yTitleX: 392, yTitleY: 422 } });
drawPanel({ id: 'b', left: 2308, right: 4008, top: 181, bottom: 1551, byColor: '#FF8000', eyColor: '#FF0000',
  byMeas: bByMeas, byModel: bByModel, byOT: bByOT, eyMeas: bEyMeas, eyModel: bEyModel, eyOT: bEyOT,
  radBy: bRadBy, radByStart: bRadByStart, radEy: bRadEy, radEyStart: bRadEyStart,
  inset: { left: 2402, right: 3107, top: 155, bottom: 695, ticks: bTicks, scatterBy: bScatterBy, scatterEy: bScatterEy, ellipses: bEllipses, ellipsesOnTop: false, marker: 14, xTitleX: 2685, xTitleY: 795, yTitleX: 2452, yTitleY: 413 } });
drawPanel({ id: 'c', left: 272, right: 1972, top: 2009, bottom: 3378, byColor: '#00FFFF', eyColor: '#0000A0',
  byMeas: cByMeas, byModel: cByModel, byOT: cByOT, eyMeas: cEyMeas, eyModel: cEyModel, eyOT: cEyOT,
  radBy: cRadBy, radByStart: cRadByStart, radEy: cRadEy, radEyStart: cRadEyStart,
  inset: { left: 352, right: 1057, top: 1955, bottom: 2495, ticks: cTicks, scatterBy: cScatterBy, scatterEy: cScatterEy, ellipses: cEllipses, ellipsesOnTop: false, marker: 15, xTitleX: 714, xTitleY: 2588, yTitleX: 404, yTitleY: 2183 } });
drawPanel({ id: 'd', left: 2308, right: 4008, top: 2009, bottom: 3378, byColor: '#8000FF', eyColor: '#FF0080',
  byMeas: dByMeas, byModel: dByModel, byOT: dByOT, eyMeas: dEyMeas, eyModel: dEyModel, eyOT: dEyOT,
  radBy: dRadBy, radByStart: dRadByStart, radEy: dRadEy, radEyStart: dRadEyStart,
  inset: { left: 2405, right: 3110, top: 2004, bottom: 2543, ticks: dTicks, scatterBy: dScatterBy, scatterEy: dScatterEy, ellipses: dEllipses, ellipsesOnTop: false, marker: 13, xTitleX: 2780, xTitleY: 2640, yTitleX: 2463, yTitleY: 2256 } });
</script>
</body>
</html>
